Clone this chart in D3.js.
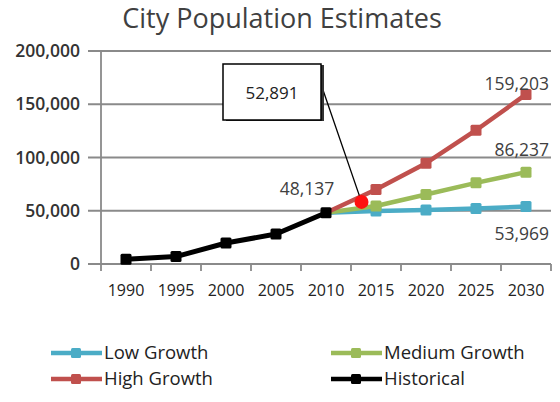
<!DOCTYPE html>
<html>
<head>
<meta charset="utf-8">
<script src="https://cdn.jsdelivr.net/npm/d3@7"></script>
<style>
  body { margin: 0; background: #fff; }
  text { font-family: "Open Sans", "DejaVu Sans", sans-serif; }
</style>
</head>
<body>
<div id="chart"></div>
<script>
// data
var years = [1990, 1995, 2000, 2005, 2010, 2015, 2020, 2025, 2030]
var historical = [4500, 7000, 19700, 28100, 48137]
var lowGrowth = [48137, 49700, 50600, 52000, 53969]
var mediumGrowth = [48137, 54400, 65200, 76200, 86237]
var highGrowth = [48137, 69900, 94700, 125600, 159203]
var yTicks = [0, 50000, 100000, 150000, 200000]
var callout = {year: 2013.55, value: 58300, label: "52,891"}

var histYears = years.slice(0, 5)
var projYears = years.slice(4)

var series = [
  {name: "Low Growth", years: projYears, values: lowGrowth, color: "#4bacc6"},
  {name: "Medium Growth", years: projYears, values: mediumGrowth, color: "#9bbb59"},
  {name: "High Growth", years: projYears, values: highGrowth, color: "#c0504d"},
  {name: "Historical", years: histYears, values: historical, color: "#000"}
]

var W = 560, H = 402
var margin = {top: 51, right: 9, bottom: 138, left: 101},
    width = W - margin.left - margin.right,
    height = H - margin.top - margin.bottom

var x = d3.scaleLinear()
  .domain([1987.5, 2032.5])
  .range([0, width])

var y = d3.scaleLinear()
  .domain([0, 200000])
  .range([height, 0])

var svg = d3.select("#chart").append("svg")
  .attr("width", W)
  .attr("height", H)

svg.append("text")
  .attr("x", 282)
  .attr("y", 28)
  .attr("text-anchor", "middle")
  .attr("font-size", 27)
  .attr("fill", "#404040")
  .text("City Population Estimates")

var g = svg.append("g")
  .attr("transform", "translate(" + margin.left + "," + margin.top + ")")

// gridlines
g.selectAll(".grid")
  .data(yTicks)
  .enter().append("line")
  .attr("x1", -13)
  .attr("x2", width)
  .attr("y1", d => y(d))
  .attr("y2", d => y(d))
  .attr("stroke", "#8a8a8a")
  .attr("stroke-width", 1.8)

// y labels
g.selectAll(".ylab")
  .data(yTicks)
  .enter().append("text")
  .attr("x", -21)
  .attr("y", d => y(d))
  .attr("dy", "0.35em")
  .attr("text-anchor", "end")
  .attr("font-size", 17.5)
  .attr("font-weight", 600)
  .attr("fill", "#333")
  .text(d => d3.format(",")(d))

// y axis line
g.append("line")
  .attr("x1", 0).attr("x2", 0)
  .attr("y1", 0).attr("y2", height)
  .attr("stroke", "#8a8a8a")
  .attr("stroke-width", 1.8)

// x ticks between categories
var tickPos = years.map(d => d - 2.5).concat([2032.5])
g.selectAll(".xtick")
  .data(tickPos)
  .enter().append("line")
  .attr("x1", d => x(d)).attr("x2", d => x(d))
  .attr("y1", height).attr("y2", height + 7)
  .attr("stroke", "#8a8a8a")
  .attr("stroke-width", 1.8)

g.selectAll(".xlab")
  .data(years)
  .enter().append("text")
  .attr("x", d => x(d))
  .attr("y", height + 26)
  .attr("dy", "0.35em")
  .attr("text-anchor", "middle")
  .attr("font-size", 16)
  .attr("fill", "#222")
  .text(d => d)

var line = d3.line()
  .x(d => x(d[0]))
  .y(d => y(d[1]))

series.forEach(s => {
  var pts = s.years.map((yr, i) => [yr, s.values[i]])
  g.append("path")
    .datum(pts)
    .attr("d", line)
    .attr("fill", "none")
    .attr("stroke", s.color)
    .attr("stroke-width", s.name == "Historical" ? 5 : 4.5)
    .attr("stroke-linejoin", "round")
  g.selectAll(null)
    .data(s.name == "Historical" ? pts : pts.slice(1))
    .enter().append("rect")
    .attr("x", d => x(d[0]) - 5.5)
    .attr("y", d => y(d[1]) - 5.5)
    .attr("width", 11)
    .attr("height", 11)
    .attr("rx", 1.5)
    .attr("fill", s.color)
})

// value labels
var labels = [
  {year: 2030, value: highGrowth[4], dy: -11, anchor: "end", dx: 23},
  {year: 2030, value: mediumGrowth[4], dy: -22, anchor: "end", dx: 23},
  {year: 2030, value: lowGrowth[4], dy: 27, anchor: "end", dx: 23},
  {year: 2010, value: historical[4], dy: -24, anchor: "middle", dx: -19}
]
g.selectAll(".vlab")
  .data(labels)
  .enter().append("text")
  .attr("x", d => x(d.year) + d.dx)
  .attr("y", d => y(d.value) + d.dy)
  .attr("dy", "0.35em")
  .attr("text-anchor", d => d.anchor)
  .attr("font-size", 17.5)
  .attr("fill", "#404040")
  .text(d => d3.format(",")(d.value))

// callout
var cx = x(callout.year), cy = y(callout.value)
var box = {x: 122, y: 13, w: 98, h: 56}
g.append("line")
  .attr("x1", box.x + box.w + 2).attr("y1", box.y + 26)
  .attr("x2", cx).attr("y2", cy)
  .attr("stroke", "#000")
  .attr("stroke-width", 1.3)
g.append("rect")
  .attr("x", box.x + 3).attr("y", box.y + 1)
  .attr("width", box.w).attr("height", box.h)
  .attr("fill", "#333")
g.append("rect")
  .attr("x", box.x).attr("y", box.y)
  .attr("width", box.w).attr("height", box.h)
  .attr("fill", "#fff")
  .attr("stroke", "#000")
  .attr("stroke-width", 1.5)
g.append("text")
  .attr("x", box.x + box.w / 2)
  .attr("y", box.y + box.h / 2 + 1)
  .attr("dy", "0.35em")
  .attr("text-anchor", "middle")
  .attr("font-family", "Liberation Sans, Arial, sans-serif")
  .attr("font-size", 17)
  .attr("fill", "#222")
  .text(callout.label)
g.append("circle")
  .attr("cx", cx).attr("cy", cy)
  .attr("r", 7)
  .attr("fill", "#ff1010")

// legend
var legendPos = [
  {x: 51, y: 353}, {x: 331, y: 353},
  {x: 51, y: 379}, {x: 331, y: 379}
]
var lg = svg.selectAll(".legend")
  .data(series)
  .enter().append("g")
  .attr("transform", (d, i) => "translate(" + legendPos[i].x + "," + legendPos[i].y + ")")
lg.append("line")
  .attr("x1", 0).attr("x2", 51)
  .attr("stroke", d => d.color)
  .attr("stroke-width", 4.5)
lg.append("rect")
  .attr("x", 20).attr("y", -5)
  .attr("width", 10).attr("height", 10)
  .attr("rx", 1.5)
  .attr("fill", d => d.color)
lg.append("text")
  .attr("x", 53)
  .attr("dy", "0.35em")
  .attr("font-size", 18.5)
  .attr("fill", "#222")
  .text(d => d.name)
</script>
</body>
</html>
